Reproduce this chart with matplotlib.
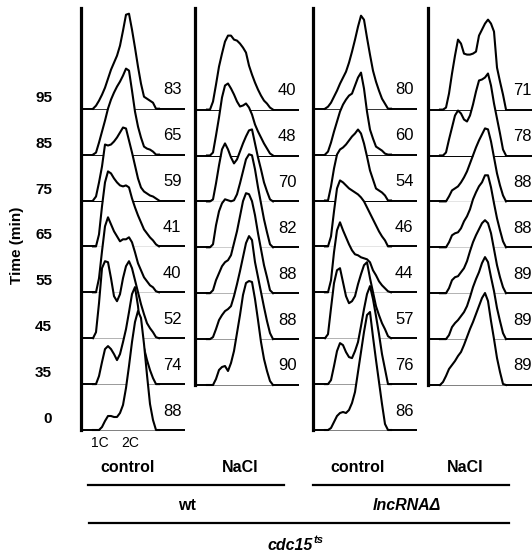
import matplotlib.pyplot as plt
from matplotlib.lines import Line2D

plt.rcParams['font.family'] = ['Liberation Sans', 'DejaVu Sans']

W, H = 532, 557

# time points (top to bottom) and DNA-content channel positions
times = ['95', '85', '75', '65', '55', '45', '35', '0']
dna_x = [12, 15, 18, 21, 24, 27, 30, 33, 36, 39, 42, 45, 48, 51, 54, 57, 60, 63, 66, 69, 72, 75, 78]

# % cells with 2C content, top to bottom
pct_wt_ctrl = [83, 65, 59, 41, 40, 52, 74, 88]
pct_wt_nacl = [40, 48, 70, 82, 88, 88, 90]
pct_del_ctrl = [80, 60, 54, 46, 44, 57, 76, 86]
pct_del_nacl = [71, 78, 88, 88, 89, 89, 89]

# histogram heights, top to bottom
hist_wt_ctrl = [
    [0, 3, 8, 14, 21, 30, 39, 46, 53, 63, 78, 94, 95, 79, 61, 42, 25, 12, 10, 8, 6, 0, 0],
    [0, 2, 12, 23, 34, 46, 55, 62, 68, 73, 79, 86, 84, 64, 43, 28, 17, 8, 6, 5, 3, 0, 0],
    [0, 4, 18, 34, 56, 55, 56, 59, 63, 68, 73, 72, 60, 48, 35, 22, 13, 9, 7, 5, 4, 2, 0],
    [0, 0, 12, 40, 64, 75, 73, 68, 64, 61, 60, 61, 59, 48, 39, 31, 24, 17, 13, 9, 6, 2, 0],
    [0, 0, 14, 41, 66, 75, 68, 61, 56, 51, 53, 53, 55, 50, 40, 29, 22, 15, 11, 7, 5, 1, 0],
    [0, 6, 35, 70, 77, 76, 60, 42, 37, 44, 60, 72, 77, 70, 58, 46, 34, 24, 15, 10, 6, 1, 0],
    [0, 0, 8, 22, 35, 38, 35, 30, 24, 30, 42, 55, 72, 90, 97, 78, 50, 36, 24, 14, 6, 0, 0],
    [0, 0, 0, 3, 9, 14, 14, 13, 13, 17, 25, 42, 64, 88, 108, 119, 112, 86, 55, 26, 10, 0, 0],
]
hist_wt_nacl = [
    [0, 0, 8, 25, 43, 56, 68, 74, 74, 70, 69, 66, 62, 57, 44, 35, 27, 20, 14, 9, 6, 2, 0],
    [0, 0, 3, 20, 38, 58, 70, 72, 67, 61, 54, 49, 50, 52, 48, 41, 31, 24, 18, 12, 7, 2, 0],
    [0, 0, 2, 18, 36, 52, 58, 52, 44, 38, 42, 50, 58, 65, 71, 72, 58, 44, 32, 19, 10, 2, 0],
    [0, 0, 3, 22, 36, 44, 48, 47, 46, 47, 53, 64, 76, 88, 93, 92, 78, 60, 44, 28, 15, 3, 0],
    [0, 0, 3, 13, 20, 27, 31, 33, 38, 50, 62, 77, 92, 100, 99, 92, 78, 60, 44, 28, 16, 3, 0],
    [0, 0, 2, 10, 19, 24, 28, 30, 33, 43, 55, 68, 82, 96, 103, 99, 77, 62, 47, 32, 18, 6, 0],
    [0, 0, 0, 6, 15, 18, 19, 14, 22, 34, 52, 70, 90, 102, 104, 103, 86, 65, 43, 26, 14, 4, 0],
]
hist_del_ctrl = [
    [0, 2, 6, 12, 18, 25, 31, 37, 46, 57, 69, 82, 93, 89, 71, 54, 38, 27, 18, 10, 5, 0, 0],
    [0, 3, 12, 23, 33, 43, 50, 55, 59, 61, 69, 77, 82, 66, 43, 25, 16, 8, 6, 4, 1, 0, 0],
    [0, 0, 14, 32, 46, 51, 53, 56, 60, 64, 67, 71, 67, 57, 44, 30, 21, 12, 10, 8, 5, 0, 0],
    [0, 0, 10, 35, 58, 66, 64, 61, 58, 56, 54, 52, 49, 45, 39, 33, 27, 21, 15, 10, 6, 0, 0],
    [0, 0, 12, 40, 62, 70, 62, 55, 48, 42, 38, 37, 35, 34, 33, 30, 22, 17, 11, 7, 4, 1, 0],
    [0, 4, 30, 55, 68, 70, 56, 42, 35, 37, 42, 54, 64, 73, 76, 60, 46, 32, 23, 15, 9, 2, 0],
    [0, 0, 4, 18, 33, 41, 39, 32, 27, 26, 33, 42, 58, 75, 90, 98, 85, 68, 50, 30, 15, 0, 0],
    [0, 0, 2, 8, 14, 17, 18, 17, 20, 27, 38, 58, 78, 98, 115, 118, 93, 70, 48, 26, 6, 0, 0],
]
hist_del_nacl = [
    [0, 0, 2, 16, 36, 54, 70, 66, 56, 55, 55, 56, 58, 74, 80, 86, 90, 86, 78, 42, 28, 15, 0],
    [0, 0, 3, 16, 28, 40, 45, 42, 36, 34, 40, 51, 64, 75, 76, 78, 82, 70, 52, 37, 22, 6, 0],
    [0, 0, 0, 5, 11, 13, 15, 19, 24, 30, 38, 46, 54, 61, 67, 73, 72, 60, 44, 28, 16, 6, 0],
    [0, 0, 0, 5, 12, 14, 15, 19, 26, 31, 38, 48, 55, 61, 65, 72, 72, 60, 44, 29, 17, 6, 0],
    [0, 0, 0, 5, 13, 16, 17, 21, 25, 32, 42, 51, 58, 64, 70, 73, 70, 60, 44, 28, 16, 6, 0],
    [0, 0, 0, 4, 12, 16, 19, 23, 27, 33, 42, 52, 60, 67, 76, 82, 77, 62, 48, 31, 18, 6, 0],
    [0, 3, 9, 16, 20, 24, 29, 33, 40, 48, 56, 63, 71, 79, 87, 92, 84, 64, 46, 27, 13, 1, 0],
]

panels = [
    (hist_wt_ctrl, pct_wt_ctrl, 81, 430, 82),
    (hist_wt_nacl, pct_wt_nacl, 195, 385, 83),
    (hist_del_ctrl, pct_del_ctrl, 313, 430, 82),
    (hist_del_nacl, pct_del_nacl, 428, 385, 85),
]

ROW = 45.9
TOP = 8
PW = 104


def fx(x):
    return x / W


def fy(y):
    return 1 - y / H


fig = plt.figure(figsize=(W / 100, H / 100), dpi=100)

axes = []
for hists, pcts, left, bottom, lab_x in panels:
    ax = fig.add_axes([fx(left), fy(bottom), PW / W, (bottom - TOP) / H])
    ax.set_xlim(0, PW)
    ax.set_ylim(0, bottom - TOP)
    ax.patch.set_visible(False)
    for s in ['top', 'right', 'bottom']:
        ax.spines[s].set_visible(False)
    ax.spines['left'].set_linewidth(2.3)
    ax.spines['left'].set_zorder(200)
    ax.set_xticks([])
    ax.set_yticks([])
    n = len(hists)
    for i, (h, p) in enumerate(zip(hists, pcts)):
        base = (n - 1 - i) * ROW
        z = 10 + 3 * i
        ys = [base + v for v in h]
        ax.hlines(base, 0, PW, color='black', lw=1.4, zorder=z, clip_on=False)
        ax.fill_between(dna_x, base, ys, color='white', lw=0, zorder=z + 1, clip_on=False)
        ax.plot(dna_x, ys, color='black', lw=1.5, zorder=z + 2, clip_on=False,
                solid_joinstyle='round')
        ax.text(lab_x, base + 19, str(p), ha='left', va='center', fontsize=12,
                zorder=150, clip_on=False)
    axes.append(ax)

# time labels on the first panel
ax1 = axes[0]
for i, t in enumerate(times):
    base = (len(times) - 1 - i) * ROW
    ax1.text(-29, base + 11, t, ha='right', va='center', fontsize=11,
             fontweight='bold', clip_on=False)

fig.text(fx(17), fy(245), 'Time (min)', rotation=90, ha='center', va='center',
         fontsize=11, fontweight='bold')

fig.text(fx(100), fy(443), '1C', ha='center', va='center', fontsize=10)
fig.text(fx(130), fy(443), '2C', ha='center', va='center', fontsize=10)

for x, lab in [(128, 'control'), (240, 'NaCl'), (358, 'control'), (465, 'NaCl')]:
    fig.text(fx(x), fy(468), lab, ha='center', va='center', fontsize=11.5,
             fontweight='bold')

fig.add_artist(Line2D([fx(88), fx(284)], [fy(485), fy(485)], color='black', lw=1.6))
fig.add_artist(Line2D([fx(313), fx(509)], [fy(485), fy(485)], color='black', lw=1.6))

fig.text(fx(187), fy(506), 'wt', ha='center', va='center', fontsize=11.5,
         fontweight='bold')
fig.text(fx(407), fy(506), 'lncRNAΔ', ha='center', va='center', fontsize=11.5,
         fontweight='bold', style='italic')

fig.add_artist(Line2D([fx(89), fx(509)], [fy(523), fy(523)], color='black', lw=1.6))

fig.text(fx(313), fy(545), 'cdc15', ha='right', va='center', fontsize=11.5,
         fontweight='bold', style='italic')
fig.text(fx(313.5), fy(540), 'ts', ha='left', va='center', fontsize=8,
         fontweight='bold', style='italic')

fig.savefig('out.png', dpi=100)
